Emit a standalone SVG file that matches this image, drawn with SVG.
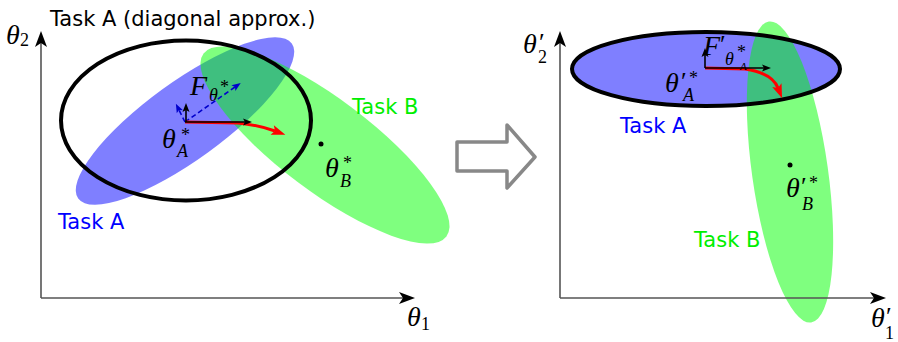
<svg xmlns="http://www.w3.org/2000/svg" width="898" height="342" viewBox="0 0 898 342">
<style>
.axis{stroke:#555;stroke-width:1.6;fill:none}
.ahead{fill:#000}
.blueE{fill:#0000ff;fill-opacity:0.5}
.greenE{fill:#00ff00;fill-opacity:0.5}
.diag{fill:none;stroke:#000;stroke-width:4}
.lbl{font-family:"DejaVu Sans",sans-serif;font-size:21px}
.m{font-family:"Liberation Serif",serif;font-style:italic;font-size:28px;fill:#000}
.ms{font-family:"Liberation Serif",serif;font-size:18px;fill:#000}
.msi{font-family:"Liberation Serif",serif;font-style:italic;font-size:18px;fill:#000}
.pr{font-family:"Liberation Serif",serif;font-size:26px;fill:#000}
.red{fill:none;stroke:#ff0000;stroke-width:3}
.blk{fill:none;stroke:#000;stroke-width:1.6}
.bd{fill:none;stroke:#0000cc;stroke-width:1.6;stroke-dasharray:5,3}
</style>
<defs>
<marker id="rh" markerUnits="userSpaceOnUse" viewBox="-1 -6 16 12" markerWidth="16" markerHeight="12" refX="3" refY="0" orient="auto"><path d="M0,-5 L14,0 L0,5 L3,0 Z" fill="#ff0000"/></marker>
<marker id="bh" markerUnits="userSpaceOnUse" viewBox="-1 -4 11 8" markerWidth="11" markerHeight="8" refX="2" refY="0" orient="auto"><path d="M0,-3.5 L9,0 L0,3.5 L2,0 Z" fill="#000"/></marker>
<marker id="uh" markerUnits="userSpaceOnUse" viewBox="-1 -4 11 8" markerWidth="11" markerHeight="8" refX="2" refY="0" orient="auto"><path d="M0,-3.5 L9,0 L0,3.5 L2,0 Z" fill="#0000cc"/></marker>
</defs>

<g id="left-ellipses">
<ellipse class="blueE" cx="185" cy="121" rx="132" ry="39" transform="rotate(-36 185 121)"/>
<ellipse class="greenE" cx="325" cy="145" rx="152" ry="46" transform="rotate(37 325 145)"/>
<ellipse class="diag" cx="186" cy="120.5" rx="125" ry="80"/>
</g>

<g id="right-ellipses">
<ellipse class="blueE" cx="706" cy="69" rx="134" ry="37"/>
<ellipse class="greenE" cx="790" cy="172" rx="152" ry="38" transform="rotate(82 790 172)"/>
<ellipse class="diag" cx="706" cy="69" rx="134" ry="37"/>
</g>

<g id="left-axes">
<path class="axis" d="M41,298 V40 M41,298 H405"/>
<path class="ahead" d="M41,31 L47,47 L41,43 L35,47 Z"/>
<path class="ahead" d="M415,298 L399,304 L403,298 L399,292 Z"/>
</g>
<g id="right-axes">
<path class="axis" d="M560,298 V40 M560,298 H876"/>
<path class="ahead" d="M560,31 L566,47 L560,43 L554,47 Z"/>
<path class="ahead" d="M886,298 L870,304 L874,298 L870,292 Z"/>
</g>

<g id="transform-arrow">
<path d="M457,142 L507,142 L507,125 L535,157 L507,188 L507,171 L457,171 Z" fill="none" stroke="#888" stroke-width="3.5" stroke-linejoin="round"/>
</g>

<g id="connectors">
<path class="bd" d="M185,122 L235,87" marker-end="url(#uh)"/>
<path class="bd" d="M185,122 L179,110" marker-end="url(#uh)"/>
<path class="red" d="M185,122 L238,123 Q258,125 275,131" marker-end="url(#rh)"/>
<path class="blk" d="M185,122 L245,122" marker-end="url(#bh)"/>
<path class="blk" d="M186,122 L186,110" marker-end="url(#bh)"/>

<path class="red" d="M705,68 L745,69 Q772,73 778,88" marker-end="url(#rh)"/>
<path class="blk" d="M705,68 L764,68" marker-end="url(#bh)"/>
<path class="blk" d="M705,68 L705,55" marker-end="url(#bh)"/>
</g>

<g id="points">
<circle cx="321" cy="144" r="2.5" fill="#000"/>
<circle cx="790" cy="165" r="2.5" fill="#000"/>
</g>

<g id="labels">
<text class="lbl" x="50" y="26" fill="#000">Task A (diagonal approx.)</text>
<text class="lbl" x="58" y="229" fill="#0000ff">Task A</text>
<text class="lbl" x="352" y="114" fill="#00ee00">Task B</text>
<text class="lbl" x="620" y="133" fill="#0000ff">Task A</text>
<text class="lbl" x="694" y="247" fill="#00ee00">Task B</text>

<text class="m" x="6" y="44">θ</text><text class="ms" x="20" y="46">2</text>
<text class="m" x="407" y="326">θ</text><text class="ms" x="421" y="330">1</text>
<text class="m" x="523" y="53">θ</text><text class="pr" x="539" y="51">′</text><text class="ms" x="538" y="63">2</text>
<text class="m" x="871" y="327">θ</text><text class="pr" x="886" y="325">′</text><text class="ms" x="885" y="339">1</text>

<text class="m" x="162" y="148">θ</text><text class="ms" x="181" y="141">*</text><text class="msi" x="177" y="157">A</text>
<text class="m" x="325" y="177">θ</text><text class="ms" x="343" y="169">*</text><text class="msi" x="340" y="187">B</text>
<text class="m" x="190" y="95">F</text><text class="msi" x="209" y="101">θ</text><text class="ms" x="220" y="93">*</text>

<text class="m" x="703" y="55">F</text><text class="pr" x="720" y="53">′</text><text class="msi" x="725" y="65">θ</text><text class="ms" x="737" y="58">*</text><text class="msi" x="740" y="70" style="font-size:11px">A</text>
<text class="m" x="665" y="92">θ</text><text class="pr" x="681" y="90">′</text><text class="ms" x="689" y="84">*</text><text class="msi" x="683" y="101">A</text>
<text class="m" x="786" y="197">θ</text><text class="pr" x="801" y="195">′</text><text class="ms" x="809" y="189">*</text><text class="msi" x="802" y="210">B</text>
</g>
</svg>
